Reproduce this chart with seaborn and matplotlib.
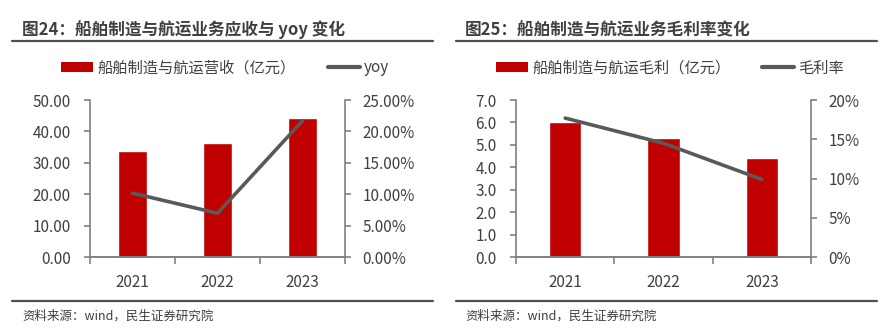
import matplotlib
matplotlib.use("Agg")
import matplotlib.pyplot as plt
import seaborn as sns
import pandas as pd
import numpy as np
from matplotlib.lines import Line2D
from matplotlib.patches import Patch
from matplotlib.ticker import FuncFormatter, FixedLocator

# ---- data ----
years = ["2021", "2022", "2023"]
revenue = [33.9, 36.2, 44.4]          # 亿元
revenue_yoy = [10.2, 7.0, 21.7]       # %
gross_profit = [6.0, 5.3, 4.4]        # 亿元
gross_margin = [17.7, 14.5, 9.9]      # %

title_left = "图24：船舶制造与航运业务应收与 yoy 变化"
title_right = "图25：船舶制造与航运业务毛利率变化"
legend_left = ["船舶制造与航运营收（亿元）", "yoy"]
legend_right = ["船舶制造与航运毛利（亿元）", "毛利率"]
source = "资料来源：wind，民生证券研究院"

sns.set_theme(style="white")
plt.rcParams["font.family"] = ["Noto Sans CJK SC", "DejaVu Sans"]

RED = "#C00000"
LINE = "#595959"
SPINE = "#808080"
TXT = "#404040"

W, H = 896, 336
fig = plt.figure(figsize=(W / 100, H / 100), dpi=100)
fig.patch.set_facecolor("white")


def px(x0, y0, w, h):
    return [x0 / W, 1 - (y0 + h) / H, w / W, h / H]


def panel(x0, w, bars, line, ymax, ystep, rmax, rstep, lfmt, rfmt, leg, title,
          tx, lx0, lx1, legc):
    ax = fig.add_axes(px(x0, 100, w, 157.3))
    df = pd.DataFrame({"year": years, "v": bars})
    sns.barplot(data=df, x="year", y="v", color=RED, width=0.33, ax=ax,
                saturation=1)
    ax.set_ylim(0, ymax)
    ax.set_xlim(-0.5, 2.5)
    ax.set_xlabel("")
    ax.set_ylabel("")
    ax2 = ax.twinx()
    dl = pd.DataFrame({"year": years, "r": line})
    sns.lineplot(data=dl, x="year", y="r", color=LINE, linewidth=2.6, ax=ax2,
                 sort=False)
    ax2.set_ylim(0, rmax)
    ax2.set_ylabel("")
    ax.set_xlim(-0.5, 2.5)

    ax.set_yticks(np.arange(0, ymax + 1e-9, ystep))
    ax2.set_yticks(np.arange(0, rmax + 1e-9, rstep))
    ax.yaxis.set_major_formatter(FuncFormatter(lfmt))
    ax2.yaxis.set_major_formatter(FuncFormatter(rfmt))

    for a in (ax, ax2):
        for s in a.spines.values():
            s.set_color(SPINE)
            s.set_linewidth(1.2)
        a.spines["top"].set_visible(False)
        a.grid(False)
        a.set_facecolor("none")
    ax2.spines["left"].set_visible(False)
    ax.spines["right"].set_visible(False)

    ax.tick_params(axis="y", length=4, width=1.2, color=SPINE, labelcolor=TXT,
                   labelsize=11, pad=10, direction="out", left=True)
    ax2.tick_params(axis="y", length=4, width=1.2, color=SPINE, labelcolor=TXT,
                    labelsize=11, pad=8.5, direction="out", right=True)
    ax.xaxis.set_minor_locator(FixedLocator([-0.5, 0.5, 1.5, 2.5]))
    ax.tick_params(axis="x", which="major", length=0, labelcolor=TXT,
                   labelsize=11, pad=12)
    ax.tick_params(axis="x", which="minor", length=5, width=1.2, color=SPINE,
                   direction="out", bottom=True)

    handles = [Patch(facecolor=RED, edgecolor="none"),
               Line2D([0], [0], color=LINE, linewidth=3)]
    fig.legend(handles, leg, loc="center", bbox_to_anchor=(legc / W, 1 - 68 / H),
               ncol=2, frameon=False, fontsize=11, handlelength=2.1,
               handleheight=0.6, handletextpad=0.25, columnspacing=2.1,
               labelcolor=TXT)

    fig.text(tx / W, 1 - 30 / H, title, fontsize=12, fontweight="bold",
             color=TXT, va="center", ha="left")
    fig.add_artist(Line2D([lx0 / W, lx1 / W], [1 - 40.5 / H, 1 - 40.5 / H],
                          color="#505050", linewidth=1.6))
    fig.add_artist(Line2D([lx0 / W, lx1 / W], [1 - 301 / H, 1 - 301 / H],
                          color="#505050", linewidth=1.6))
    fig.text(tx / W, 1 - 316 / H, source, fontsize=9, color=TXT,
             va="center", ha="left")
    return ax, ax2


panel(90, 255, revenue, revenue_yoy, 50, 10, 25, 5,
      lambda v, p: f"{v:.2f}", lambda v, p: f"{v:.2f}%",
      legend_left, title_left, 22, 12, 433, 225)
panel(516, 295, gross_profit, gross_margin, 7, 1, 20, 5,
      lambda v, p: f"{v:.1f}", lambda v, p: f"{v:.0f}%",
      legend_right, title_right, 465, 456, 877, 670)

fig.savefig("out.png", dpi=100, facecolor="white")
